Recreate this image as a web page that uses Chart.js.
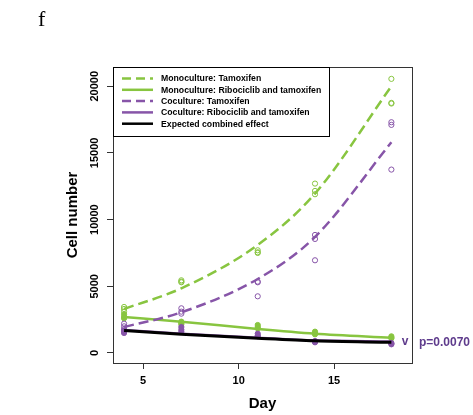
<!DOCTYPE html>
<html>
<head>
<meta charset="utf-8">
<script src="https://cdn.jsdelivr.net/npm/chart.js@4"></script>
<style>
  body { margin: 0; background: #fff; }
  canvas { display: block; }
</style>
</head>
<body>
<canvas id="chart" width="473" height="415"></canvas>
<script>
// fitted curves, one value per day
const days = [4, 7, 11, 14, 18];
const mono_tam_fit = [3300, 4850, 8100, 11950, 20000];
const mono_ribo_fit = [2700, 2350, 1800, 1450, 1150];
const co_tam_fit = [1950, 3050, 5550, 8700, 15800];
const co_ribo_fit = [1720, 1450, 1150, 950, 860];
const expected_fit = [1680, 1400, 1100, 910, 800];

// replicate measurements (3 per day)
const point_days = [4, 4, 4, 7, 7, 7, 11, 11, 11, 14, 14, 14, 18, 18, 18];
const mono_tam_points = [3450, 3300, 3100, 5450, 5350, 5300, 7700, 7550, 7500, 12700, 12150, 11900, 20550, 18750, 18700];
const mono_ribo_points = [2900, 2700, 2600, 2350, 2250, 2150, 2100, 1950, 1850, 1600, 1500, 1400, 1250, 1150, 1100];
const co_tam_points = [2200, 2000, 1800, 3350, 3100, 2950, 5350, 5300, 4250, 8850, 8550, 6950, 17300, 17100, 13750];
const co_ribo_points = [1700, 1600, 1500, 1950, 1750, 1600, 1450, 1300, 1250, 900, 850, 800, 750, 700, 650];

const x_ticks = [5, 10, 15];
const y_ticks = [0, 5000, 10000, 15000, 20000];

const legend_labels = [
    'Monoculture: Tamoxifen',
    'Monoculture: Ribociclib and tamoxifen',
    'Coculture: Tamoxifen',
    'Coculture: Ribociclib and tamoxifen',
    'Expected combined effect'
];
const panel_label = 'f';
const p_label = 'p=0.0070';

const green = '#88c540';
const purple = '#8755a8';
const dark_purple = '#5e3b8c';
const font_family = '"Liberation Sans", Arial, sans-serif';

function xy(xs, ys) {
    return ys.map((v, i) => ({x: xs[i], y: v}));
}

function line_set(label, values, color, dashed, width) {
    return {
        type: 'line',
        label: label,
        data: xy(days, values),
        borderColor: color,
        borderWidth: width,
        borderDash: dashed ? [10, 5] : [],
        pointRadius: 0,
        cubicInterpolationMode: 'monotone',
        fill: false,
    };
}

function point_set(values, color, filled) {
    return {
        type: 'scatter',
        data: xy(point_days, values),
        borderColor: color,
        backgroundColor: filled ? color : 'rgba(0,0,0,0)',
        borderWidth: 1,
        pointRadius: 2.6,
        showLine: false,
    };
}

// plot box, legend box and the extra annotations (R style)
const extras = {
    id: 'extras',
    afterDraw(chart) {
        const ctx = chart.ctx;
        const a = chart.chartArea;
        ctx.save();
        ctx.strokeStyle = '#333';
        ctx.lineWidth = 1;
        ctx.strokeRect(a.left + 0.5, a.top + 0.5, a.right - a.left, a.bottom - a.top);

        // legend
        ctx.strokeStyle = '#000';
        ctx.strokeRect(a.left + 0.5, a.top + 0.5, 216, 69);
        const sets = chart.data.datasets.filter(d => d.type === 'line');
        ctx.font = 'bold 8.7px ' + font_family;
        ctx.textBaseline = 'middle';
        ctx.textAlign = 'left';
        legend_labels.forEach((txt, i) => {
            const ds = sets.find(d => d.label === txt);
            const y = a.top + 11.5 + i * 11.3;
            ctx.beginPath();
            ctx.strokeStyle = ds.borderColor;
            ctx.lineWidth = 2.5;
            ctx.setLineDash(ds.borderDash.length ? [9, 5] : []);
            ctx.moveTo(a.left + 9, y);
            ctx.lineTo(a.left + 40, y);
            ctx.stroke();
            ctx.setLineDash([]);
            ctx.fillStyle = '#000';
            ctx.fillText(txt, a.left + 48, y + 0.5);
        });

        // significance marker + p value
        const xs = chart.scales.x, ys = chart.scales.y;
        const ym = ys.getPixelForValue(780);
        ctx.fillStyle = dark_purple;
        ctx.font = 'bold 12px ' + font_family;
        ctx.textAlign = 'center';
        ctx.fillText('v', xs.getPixelForValue(18.72), ym - 1);
        ctx.textAlign = 'left';
        ctx.fillText(p_label, 419, ym);

        // panel letter
        ctx.fillStyle = '#000';
        ctx.font = '22px "Liberation Serif", "Times New Roman", serif';
        ctx.textBaseline = 'alphabetic';
        ctx.fillText(panel_label, 38, 26);
        ctx.restore();
    }
};

const axis_font = {family: font_family, size: 11, weight: 'bold'};
const title_font = {family: font_family, size: 15, weight: 'bold'};

new Chart(document.getElementById('chart'), {
    data: {
        datasets: [
            line_set(legend_labels[4], expected_fit, '#000', false, 3),
            line_set(legend_labels[3], co_ribo_fit, purple, false, 2.5),
            line_set(legend_labels[2], co_tam_fit, purple, true, 2.5),
            line_set(legend_labels[1], mono_ribo_fit, green, false, 2.5),
            line_set(legend_labels[0], mono_tam_fit, green, true, 2.5),
            point_set(co_ribo_points, purple, true),
            point_set(co_tam_points, purple, false),
            point_set(mono_ribo_points, green, true),
            point_set(mono_tam_points, green, false),
        ]
    },
    options: {
        responsive: false,
        animation: false,
        layout: {padding: {left: 0, top: 67, right: 61, bottom: 0}},
        plugins: {legend: {display: false}, tooltip: {enabled: false}},
        scales: {
            x: {
                type: 'linear',
                min: 3.42,
                max: 19.08,
                afterBuildTicks: s => { s.ticks = x_ticks.map(v => ({value: v})); },
                afterFit: s => { s.height = 52; },
                grid: {drawOnChartArea: false, drawTicks: true, tickLength: 6, tickColor: '#333'},
                border: {display: true, color: '#333'},
                ticks: {color: '#000', font: axis_font, padding: 5, maxRotation: 0},
                title: {display: true, text: 'Day', color: '#000', font: title_font,
                    padding: {top: 0, bottom: 2}},
            },
            y: {
                type: 'linear',
                min: -750,
                max: 21440,
                afterBuildTicks: s => { s.ticks = y_ticks.map(v => ({value: v})); },
                afterFit: s => { s.width = 113; },
                grid: {drawOnChartArea: false, drawTicks: true, tickLength: 6, tickColor: '#333'},
                border: {display: true, color: '#333'},
                ticks: {color: '#000', font: axis_font, minRotation: 90, maxRotation: 90,
                    crossAlign: 'center', padding: -3, callback: v => String(v)},
                title: {display: true, text: 'Cell number', color: '#000', font: title_font,
                    padding: {top: 64, bottom: 0}},
            }
        }
    },
    plugins: [extras]
});
</script>
</body>
</html>
